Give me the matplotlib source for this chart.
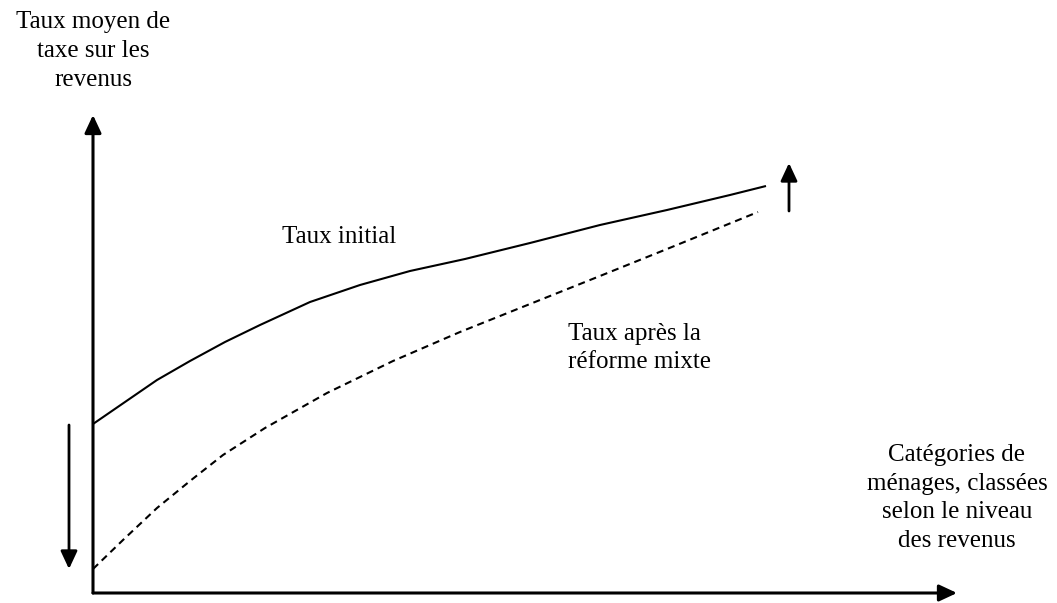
import matplotlib
matplotlib.use('Agg')
import matplotlib.pyplot as plt

# curve points (x, y in picture units, y grows downward)
initial_x = [93, 125, 157, 190, 225, 260, 310, 360, 410, 465, 530, 600, 667, 730, 766]
initial_y = [424, 402, 380, 361, 342, 325, 302, 285, 271, 259, 243, 225, 210, 195, 186]

reforme_x = [93, 123, 157, 190, 223, 265, 327, 393, 460, 530, 600, 667, 758]
reforme_y = [569, 540, 508, 481, 455, 428, 393, 361, 332, 304, 276, 249, 212]

origin = (93, 593)
y_tip = (93, 115)
x_tip = (957, 593)
down_arrow = ((69, 425), (69, 569))
up_arrow = ((789, 211), (789, 163))

ylabel = 'Taux moyen de\ntaxe sur les\nrevenus'
xlabel = 'Catégories de\nménages, classées\nselon le niveau\ndes revenus'
lab_initial = 'Taux initial'
lab_reforme = 'Taux après la\nréforme mixte'

plt.rcParams['font.family'] = ['Liberation Serif', 'DejaVu Serif']

fig = plt.figure(figsize=(10.57, 6.03), dpi=100)
ax = fig.add_axes([0, 0, 1, 1])
ax.set_xlim(0, 1057)
ax.set_ylim(603, 0)
ax.axis('off')


def arrow(tail, tip, lw=2.2):
    ax.annotate('', xy=tip, xytext=tail,
                arrowprops=dict(arrowstyle='-|>,head_length=0.9,head_width=0.42',
                                mutation_scale=12, lw=lw, color='black',
                                shrinkA=0, shrinkB=0))


arrow(origin, y_tip)
arrow(origin, x_tip)
arrow(*down_arrow, lw=2.0)
arrow(*up_arrow, lw=2.0)

ax.plot(initial_x, initial_y, color='black', lw=1.5,
        solid_capstyle='butt', solid_joinstyle='round')
ax.plot(reforme_x, reforme_y, color='black', lw=1.5, dashes=(3.4, 2.4))

fs = 18
ax.text(93, 51, ylabel, ha='center', va='center', fontsize=fs, linespacing=1.4)
ax.text(957, 498, xlabel, ha='center', va='center', fontsize=fs, linespacing=1.4)
ax.text(282, 237, lab_initial, ha='left', va='center', fontsize=fs)
ax.text(568, 348, lab_reforme, ha='left', va='center', fontsize=fs, linespacing=1.4)

fig.savefig('out.png', dpi=100)
